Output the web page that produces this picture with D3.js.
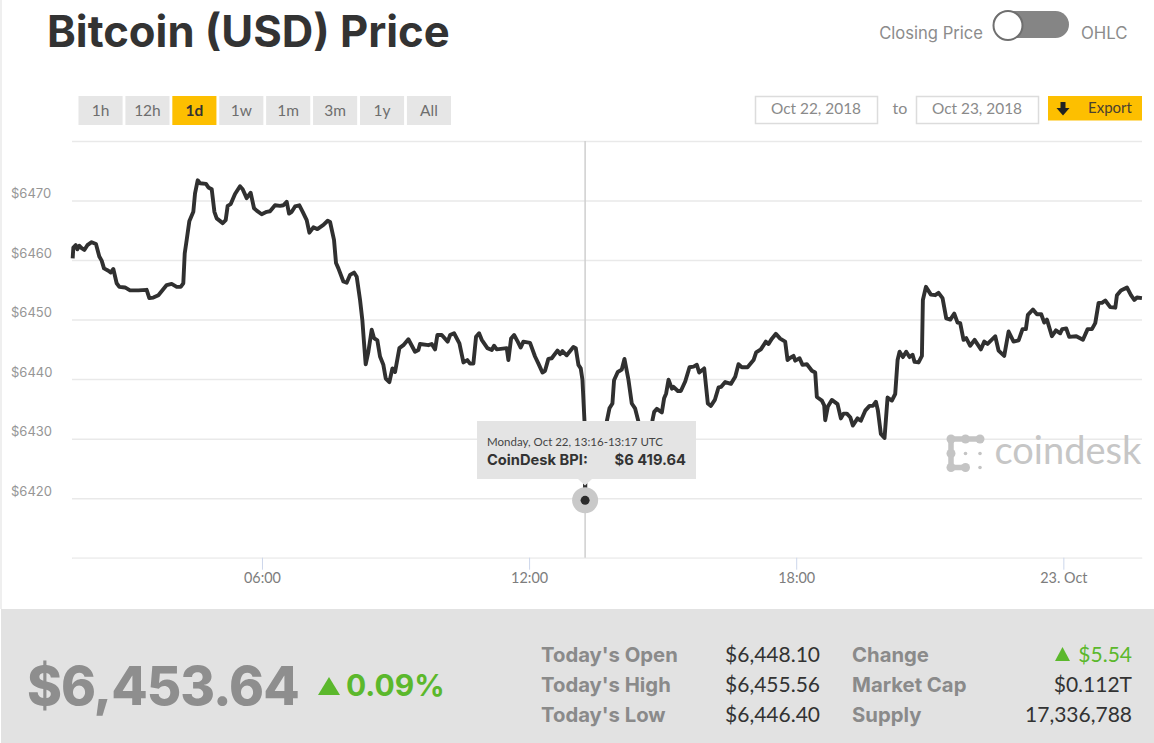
<!DOCTYPE html>
<html>
<head>
<meta charset="utf-8">
<script src="https://cdnjs.cloudflare.com/ajax/libs/d3/7.8.5/d3.min.js"></script>
<style>
  html, body { margin: 0; padding: 0; background: #fff; overflow: hidden; }
  text { font-family: "Lato", "Open Sans", sans-serif; }
  text.heavy { font-family: "Inter", "Lato", sans-serif; }
</style>
</head>
<body>
<div id="vis"></div>
<script>
// minutes since Oct 22 00:00 UTC
const minutes = [104.9,105.8,109,111.2,113.9,117,120.6,124.7,130.5,136.3,140.8,144,147.1,153,156.1,159.7,164.2,167.8,175.4,182.2,193.4,204.6,208.2,213.6,220.4,231.6,238.3,245.1,250.5,254,255.9,258.6,262.1,267.5,269.8,273.4,276.5,284.6,287.8,292.3,295.9,299,307.1,311.1,313.8,317.9,323.7,330.4,334,339.4,344.8,349.3,352.9,359.6,366.4,370.9,377.6,384.4,388.9,393.3,396.5,400.1,404.6,410.4,414.9,420.3,423.9,429.3,434.7,442.8,448.6,451.8,457.1,459.8,463,469.7,474.2,478.7,484.1,487.7,492.2,
  495.3,497.6,499.8,503.4,507.9,511,515.5,519.1,523.6,526.8,531.7,535.8,539.4,545.2,550.6,557.3,566.3,570.8,573,584.3,588.8,593.3,596.4,602.3,610.3,613.5,618.9,626.1,631.5,636.8,640.4,644.9,648.5,652.6,656.2,663.8,669.7,672.8,676.4,689.9,692.1,695.7,699.8,704.7,708.7,712.3,721.3,728,732.6,738,741.5,746,750.5,758.2,761.8,764.9,770.7,779.7,782.9,786.5,789.6,791.9,794.6,795.5,796.2,806,812,824.7,828.3,832.3,834.5,839.5,844.9,848.5,853.9,858.4,862.8,867.3,872,878,884,
  886.3,888.6,892.2,898.9,902,904.7,907.9,912.4,914.6,920.5,924.5,930.4,936.2,941.6,946.1,949.2,956,960.9,965,970.3,975.3,978.9,984.3,992,997.8,1002.2,1006.7,1014.4,1022.5,1026,1032.3,1039.1,1042.7,1047.2,1052.6,1058.4,1065.1,1068.3,1071,1076.4,1078.6,1084.5,1088.5,1094.4,1101.1,1105.6,1107.8,1114.6,1117.7,1119.1,1122.7,1128,1135.7,1140.2,1143.8,1148.3,1152.8,1156.4,1162.6,1167.1,1173,1178.8,1183.3,1187.4,1190,1194.1,1199,1203.1,1208.9,1213.4,1216.6,
  1219.3,1223.8,1228.2,1232.7,1236.8,1239.5,1244.9,1249.4,1250.7,1254.8,1261.5,1267.3,1271.8,1277.2,1282.2,1287.6,1293,1297.4,1301,1305.5,1309.1,1314.5,1320.4,1328.9,1333.4,1337.9,1348.2,1352.7,1360.3,1366.2,1372.9,1379.7,1385,1389.5,1392.2,1399,1404.4,1410.2,1414.3,1417.9,1424.6,1430,1435.8,1438.5,1443.9,1447.9,1457.4,1466.4,1472.7,1478.5,1483,1487.5,1492,1496.5,1503.2,1510,1512.2,1517.6,1525.7,1531.1,1535.6,1539.2,1545.9];
const prices = [6460.3,6462.1,6462.5,6461.8,6462.4,6462,6461.7,6462.5,6463,6462.7,6460.6,6459.9,6458.6,6458.2,6457.9,6458.5,6456.1,6455.5,6455.4,6454.9,6454.9,6455,6453.6,6453.7,6454.1,6455.8,6456,6455.5,6455.5,6456.1,6461.1,6463.4,6466.5,6468.1,6471.2,6473.4,6472.9,6472.8,6472.2,6471.9,6468.1,6467,6466.2,6466.7,6469.1,6469.4,6471.1,6472.4,6471.9,6470.4,6471.3,6468.7,6468.3,6467.7,6468.1,6468.2,6469.2,6469.1,6469.2,6469.8,6467.8,6468.1,6469,6469.2,6468.1,6466.7,6464.6,6465.5,6465.2,6465.9,6466.6,6466.4,6463.4,6459.5,6458.6,6456.4,6456.2,6457.5,6457.9,6457.2,6453.3,
  6449.9,6446,6442.5,6444.6,6448.3,6446.9,6446.5,6443.8,6442.4,6440.1,6439.5,6441.8,6441.2,6445.2,6445.7,6446.7,6444.6,6444.9,6445.9,6445.7,6445.9,6445,6447.4,6447.4,6446.3,6447.4,6447.7,6446,6442.8,6443.2,6442.6,6442.6,6447.1,6447.7,6446.6,6445.2,6444.9,6445.6,6445,6445.2,6443.2,6446.8,6447.4,6446.3,6445.3,6446.3,6446.1,6443.8,6442.6,6441.1,6441.4,6443.4,6443.5,6444.8,6444.2,6444.7,6444,6445.4,6445.2,6442.4,6441.8,6439.9,6433.1,6419.64,6426,6428,6431,6432.9,6435.1,6435.9,6439.8,6441.2,6441.6,6443.4,6439.9,6435.9,6435.1,6432.9,6430,6428,6429,
  6433.1,6434.5,6435,6434.4,6436.8,6437.6,6439.9,6438.4,6438.7,6438,6438,6439.6,6442,6442.1,6442.4,6441.1,6441.8,6435.9,6435.5,6436.5,6438.6,6438.7,6439.5,6439.2,6440.4,6442.5,6442,6442,6443.2,6444.5,6445,6446.3,6445.9,6446.8,6447.6,6446.8,6446.3,6443.2,6443.5,6443.9,6443.1,6443.5,6442.4,6442.5,6441.4,6441.1,6437,6436.4,6435.6,6433.1,6435.4,6436.5,6435.8,6433.4,6434.2,6434.2,6433.6,6432.2,6433.4,6433,6434.7,6435.5,6435.5,6436.2,6434.8,6430.8,6430.1,6436.9,6436.4,6437.5,6443.2,
  6444.6,6443.7,6444.6,6443.7,6444.1,6442.9,6442.8,6443.9,6453.3,6455.5,6454.2,6454.1,6454.5,6453.6,6450.2,6450,6451,6449.5,6449.4,6446.6,6446.9,6445.6,6446.6,6445,6446.3,6445.9,6447.2,6444.8,6443.9,6448,6446.3,6446.5,6448.4,6448.4,6450.8,6451.7,6450.9,6450.9,6449.5,6450,6447.2,6448.2,6447.7,6448.4,6448.5,6447.1,6447.2,6446.6,6448.4,6448.4,6449.4,6452.8,6452.8,6453.2,6452.1,6452,6454.1,6454.9,6455.4,6454.1,6453.3,6453.7,6453.6];

const yTicks = [6410,6420,6430,6440,6450,6460,6470,6480];
const yLabels = ["","$6420","$6430","$6440","$6450","$6460","$6470",""];
const xTicks = [360,720,1080,1440];
const xLabels = ["06:00","12:00","18:00","23. Oct"];
const rangeButtons = ["1h","12h","1d","1w","1m","3m","1y","All"];
const activeRange = "1d";
const dateFrom = "Oct 22, 2018";
const dateTo = "Oct 23, 2018";
const hoverMinute = 795.5;
const hoverPrice = 6419.64;
const statsLeft = [["Today's Open","$6,448.10"],["Today's High","$6,455.56"],["Today's Low","$6,446.40"]];
const statsRight = [["Change","$5.54"],["Market Cap","$0.112T"],["Supply","17,336,788"]];

const width = 1154, height = 743;
const green = "#5bb82c", yellow = "#fdbf00";

const svg = d3.select("#vis").append("svg")
  .attr("width", width)
  .attr("height", height)
  .style("display", "block");

svg.append("rect").attr("x", 0).attr("y", 0).attr("width", 2).attr("height", 609).attr("fill", "#efefef");

let x_scale = d3.scaleLinear().domain([104, 1546]).range([72, 1142]);
let y_scale = d3.scaleLinear().domain([6410, 6480]).range([557.7, 141]);

// title + toggle
svg.append("text").attr("class", "heavy").attr("x", 47).attr("y", 47).attr("font-size", 43.6).attr("font-weight", 700).attr("fill", "#333").text("Bitcoin (USD) Price");
svg.append("text").attr("class", "heavy").attr("x", 983).attr("y", 38.5).attr("text-anchor", "end").attr("font-size", 16.6).attr("fill", "#8c8c8c").text("Closing Price");
svg.append("text").attr("class", "heavy").attr("x", 1081).attr("y", 38.5).attr("font-size", 16.8).attr("fill", "#8c8c8c").text("OHLC");
svg.append("rect").attr("x", 993).attr("y", 11).attr("width", 76).attr("height", 27).attr("rx", 13.5).attr("fill", "#858585");
svg.append("circle").attr("cx", 1008).attr("cy", 25.5).attr("r", 14.5).attr("fill", "#fff").attr("stroke", "#6f6f6f").attr("stroke-width", 2);

// range buttons
let btnX = d3.scaleBand().domain(rangeButtons).range([78.5, 451]).paddingInner(0.06);
let btn = svg.selectAll("g.btn").data(rangeButtons).join("g").attr("class", "btn")
  .attr("transform", d => `translate(${btnX(d)},96)`);
btn.append("rect").attr("width", btnX.bandwidth()).attr("height", 29)
  .attr("fill", d => d === activeRange ? yellow : "#e6e6e6");
btn.append("text").attr("x", btnX.bandwidth() / 2).attr("y", 19.5).attr("text-anchor", "middle").attr("font-size", 15.5)
  .attr("font-weight", d => d === activeRange ? 700 : 400)
  .attr("fill", d => d === activeRange ? "#333" : "#6e6e6e").text(d => d);

// date inputs
[[755, dateFrom], [916, dateTo]].forEach(([bx, label]) => {
  svg.append("rect").attr("x", bx + 0.5).attr("y", 96.5).attr("width", 122).attr("height", 27).attr("fill", "#fff").attr("stroke", "#dcdcdc").attr("stroke-width", 1.5);
  svg.append("text").attr("x", bx + 61).attr("y", 114).attr("text-anchor", "middle").attr("font-size", 15.4).attr("fill", "#8a8a8a").text(label);
});
svg.append("text").attr("x", 900).attr("y", 114).attr("text-anchor", "middle").attr("font-size", 16).attr("fill", "#8a8a8a").text("to");
svg.append("rect").attr("x", 1048).attr("y", 96).attr("width", 94).attr("height", 24.5).attr("fill", yellow);
svg.append("path").attr("d", "M1060.5 102h5v6h4l-6.5 7.5-6.5-7.5h4z").attr("fill", "#222");
svg.append("text").attr("x", 1110).attr("y", 113).attr("text-anchor", "middle").attr("font-size", 15).attr("fill", "#4a4030").text("Export");

// grid + y labels
let yAxis = d3.axisLeft(y_scale).tickValues(yTicks).tickSize(-(1142 - 72)).tickFormat("");
svg.append("g").attr("class", "axis yAxis").attr("transform", "translate(72,0)").call(yAxis)
  .call(g => g.select(".domain").remove())
  .call(g => g.selectAll(".tick line").attr("stroke", "#e9e9e9").attr("stroke-width", 1.5));
svg.selectAll("text.ylabel").data(yTicks).join("text").attr("class", "ylabel heavy")
  .attr("x", 11).attr("y", d => y_scale(d) - 2.5).attr("font-size", 13).attr("fill", "#969696")
  .text((d, i) => yLabels[i]);

// x axis
let xAxis = d3.axisBottom(x_scale).tickValues(xTicks).tickSize(12).tickSizeOuter(0).tickPadding(3).tickFormat((d, i) => xLabels[i]);
svg.append("g").attr("class", "axis xAxis").attr("transform", "translate(0,557.7)").call(xAxis)
  .call(g => g.select(".domain").attr("stroke", "#f3f3f3"))
  .call(g => g.selectAll(".tick line").attr("stroke", "#ccd6eb"))
  .call(g => g.selectAll(".tick text").attr("font-size", 14.4).attr("font-family", "Inter").attr("fill", "#7d7d7d"));

// crosshair
svg.append("line").attr("x1", x_scale(hoverMinute)).attr("x2", x_scale(hoverMinute)).attr("y1", 141).attr("y2", 557.7)
  .attr("stroke", "#cfcfcf").attr("stroke-width", 1.5);

// watermark
const logoBig = [[951,439],[965.5,439],[980,439],[951,453.5],[951,467.5],[965.5,467.5]];
const logoSmall = [[965.5,453.5],[980,453.5],[980,467.5]];
let logo = svg.append("g").attr("fill", "#c4c4c4");
logo.append("text").attr("x", 994.5).attr("y", 464).attr("font-size", 38).attr("fill", "#c6c6c6").text("coindesk");
logo.selectAll("circle.big").data(logoBig).join("circle").attr("class", "big").attr("cx", d => d[0]).attr("cy", d => d[1]).attr("r", 4.5);
logo.selectAll("circle.small").data(logoSmall).join("circle").attr("class", "small").attr("cx", d => d[0]).attr("cy", d => d[1]).attr("r", 1.8);
logo.append("path").attr("d", "M980 439H951V467.5H965.5").attr("fill", "none").attr("stroke", "#c4c4c4").attr("stroke-width", 5.5);

// price line
let line = d3.line().x(d => x_scale(d[0])).y(d => y_scale(d[1])).curve(d3.curveLinear);
svg.append("path").datum(minutes.map((m, i) => [m, prices[i]]))
  .attr("d", line).attr("fill", "none").attr("stroke", "#303030").attr("stroke-width", 3.9).attr("stroke-linejoin", "round");

// hover marker
svg.append("circle").attr("cx", x_scale(hoverMinute)).attr("cy", y_scale(hoverPrice)).attr("r", 13).attr("fill", "#c9c9c9");
svg.append("circle").attr("cx", x_scale(hoverMinute)).attr("cy", y_scale(hoverPrice)).attr("r", 4.5).attr("fill", "#2b2b2b");

// tooltip
svg.append("path").attr("d", "M477 421h219v58h-104l-7 6.5-7-6.5h-101z").attr("fill", "#e4e4e4");
svg.append("text").attr("x", 487).attr("y", 446).attr("font-size", 11.5).attr("fill", "#444").text("Monday, Oct 22, 13:16-13:17 UTC");
svg.append("text").attr("class", "heavy").attr("x", 487).attr("y", 465).attr("font-size", 14.7).attr("font-weight", 700).attr("fill", "#333").text("CoinDesk BPI:");
svg.append("text").attr("class", "heavy").attr("x", 686).attr("y", 465).attr("text-anchor", "end").attr("font-size", 14.7).attr("font-weight", 700).attr("fill", "#333").text("$6 419.64");

// bottom panel
svg.append("rect").attr("x", 1).attr("y", 609).attr("width", 1153).attr("height", 134).attr("fill", "#e2e2e2");
svg.append("text").attr("class", "heavy").attr("x", 27).attr("y", 705).attr("font-size", 53).attr("font-weight", 800).attr("letter-spacing", -1).attr("fill", "#8e8e8e").text("$6,453.64");
svg.append("path").attr("d", "M318 695l11-18 11 18z").attr("fill", green);
svg.append("text").attr("class", "heavy").attr("x", 346).attr("y", 696).attr("font-size", 30).attr("font-weight", 700).attr("fill", green).text("0.09%");

let rowY = d3.scalePoint().domain([0, 1, 2]).range([662, 722]);
statsLeft.forEach((r, i) => {
  svg.append("text").attr("class", "heavy").attr("x", 541).attr("y", rowY(i)).attr("font-size", 20.3).attr("font-weight", 700).attr("fill", "#8a8a8a").text(r[0]);
  svg.append("text").attr("x", 820).attr("y", rowY(i)).attr("text-anchor", "end").attr("font-size", 21).attr("fill", "#333").text(r[1]);
});
statsRight.forEach((r, i) => {
  svg.append("text").attr("class", "heavy").attr("x", 852).attr("y", rowY(i)).attr("font-size", 20.3).attr("font-weight", 700).attr("fill", "#8a8a8a").text(r[0]);
  svg.append("text").attr("x", 1132).attr("y", rowY(i)).attr("text-anchor", "end").attr("font-size", 21)
    .attr("fill", i === 0 ? green : "#333").text(r[1]);
});
svg.append("path").attr("d", "M1055 661l7.5-14 7.5 14z").attr("fill", green);
</script>
</body>
</html>
